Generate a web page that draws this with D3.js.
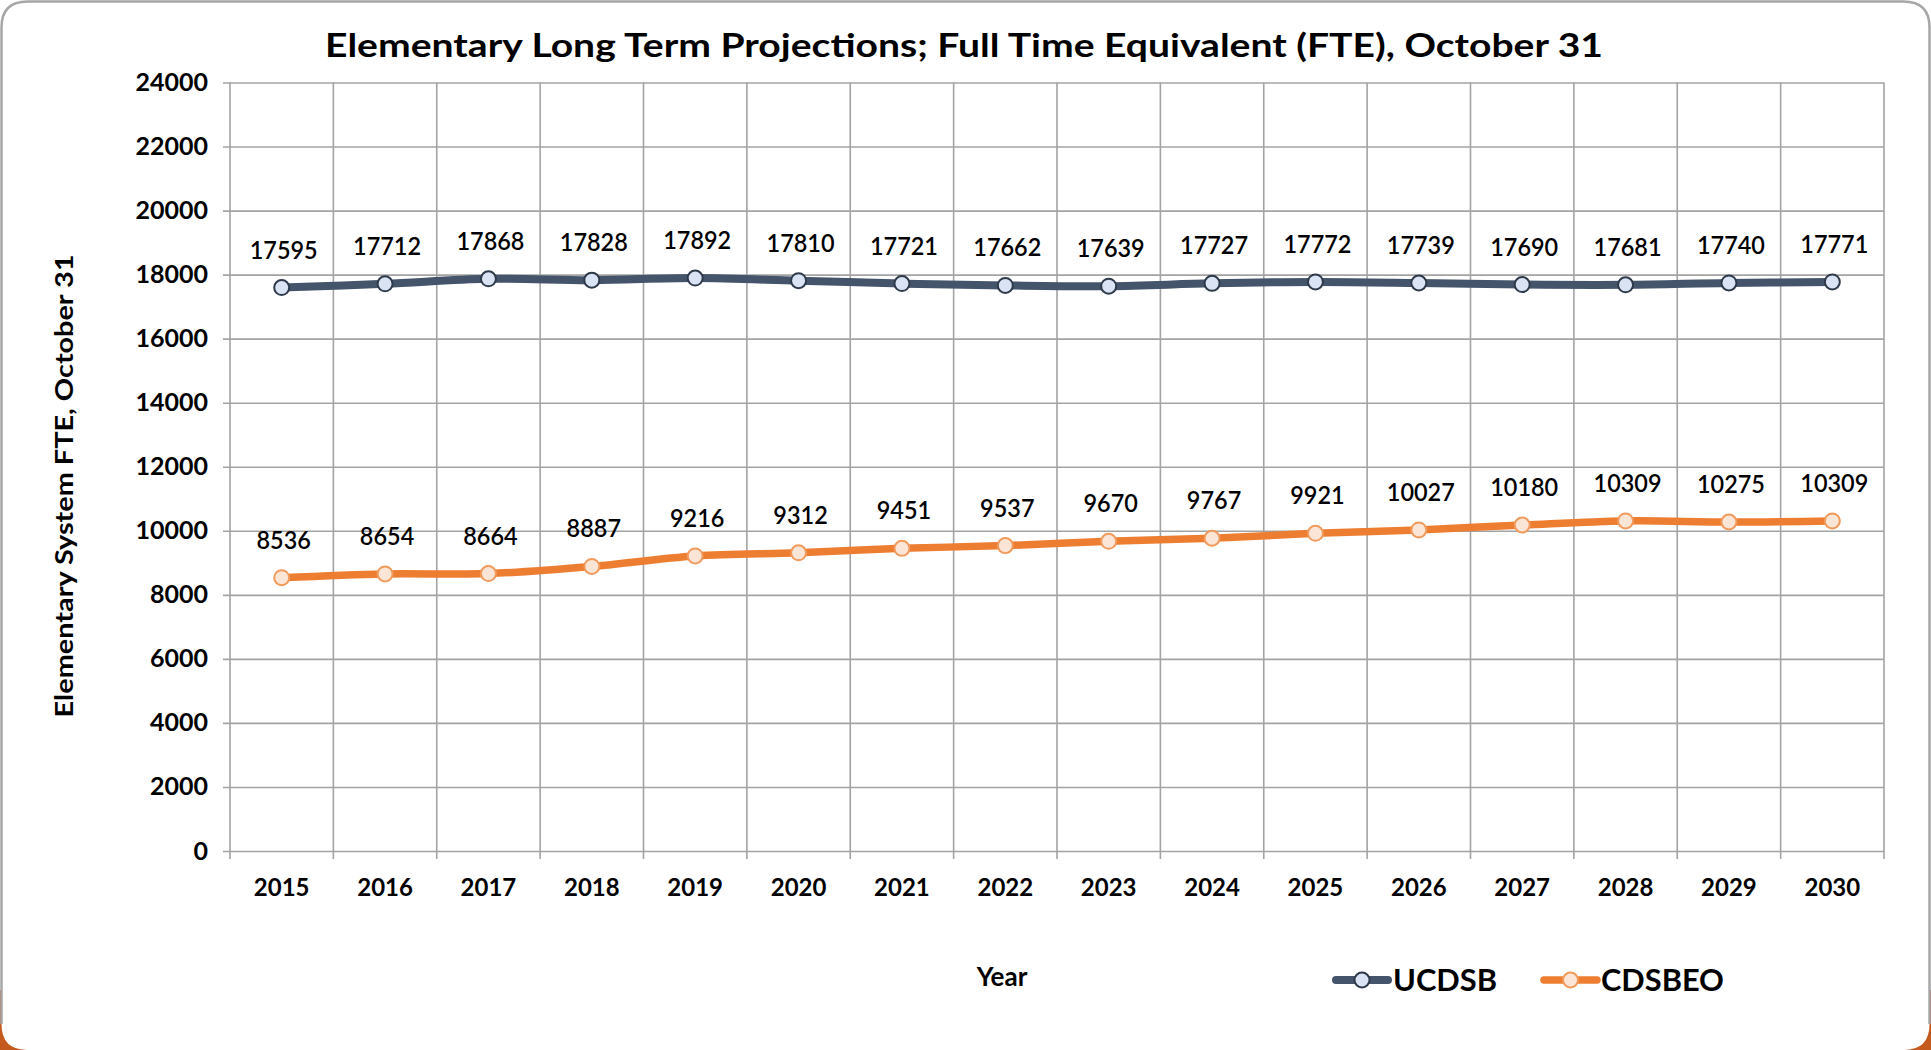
<!DOCTYPE html>
<html>
<head>
<meta charset="utf-8">
<script src="https://cdn.jsdelivr.net/npm/d3@7"></script>
<style>
  html, body { margin: 0; padding: 0; background: #ffffff; }
  svg { display: block; }
  text { font-family: Lato, "Open Sans", sans-serif; fill: #000; }
</style>
</head>
<body>
<svg id="chart" width="1931" height="1050"></svg>
<script>
const years = ["2015","2016","2017","2018","2019","2020","2021","2022","2023","2024","2025","2026","2027","2028","2029","2030"];
const ucdsb = [17595,17712,17868,17828,17892,17810,17721,17662,17639,17727,17772,17739,17690,17681,17740,17771];
const cdsbeo = [8536,8654,8664,8887,9216,9312,9451,9537,9670,9767,9921,10027,10180,10309,10275,10309];
const yTicks = [0,2000,4000,6000,8000,10000,12000,14000,16000,18000,20000,22000,24000];
const seriesNames = ["UCDSB","CDSBEO"];
const titleText = "Elementary Long Term Projections; Full Time Equivalent (FTE), October 31";
const yTitle = "Elementary System FTE, October 31";
const xTitle = "Year";

(function () {
const W = 1931, H = 1050;
const svg = d3.select("#chart");

// background frame
svg.append("rect").attr("x",0).attr("y",990).attr("width",W).attr("height",60).attr("fill","#c55a1e");
const R = 26;
svg.append("path")
  .attr("d", `M1.5,${H+5} L1.5,${R+1.5} Q1.5,1.5 ${R+1.5},1.5 L${W-R-1.5},1.5 Q${W-1.5},1.5 ${W-1.5},${R+1.5} L${W-1.5},${H-R} Q${W-1.5},${H} ${W-R-1.5},${H} L${R+1.5},${H} Q1.5,${H} 1.5,${H-R} Z`)
  .attr("fill","#ffffff");
svg.append("path")
  .attr("d", `M1.5,${H-R} L1.5,${R+1.5} Q1.5,1.5 ${R+1.5},1.5 L${W-R-1.5},1.5 Q${W-1.5},1.5 ${W-1.5},${R+1.5} L${W-1.5},${H-R}`)
  .attr("fill","none").attr("stroke","#a6a6a6").attr("stroke-width",2.5);

const pLeft = 230, pRight = 1884, pTop = 82.5, pBottom = 851;
const x = d3.scaleBand().domain(years).range([pLeft, pRight]).padding(0);
const y = d3.scaleLinear().domain([0,24000]).range([pBottom, pTop]);
const gridColor = "#a3a3a3";

// horizontal gridlines + y axis
const yAxis = d3.axisLeft(y).tickValues(yTicks).tickSize(pRight - pLeft + 7).tickPadding(15).tickFormat(d3.format("d"));
const gy = svg.append("g").attr("transform", `translate(${pRight},0)`).call(yAxis);
gy.select(".domain").remove();
gy.selectAll(".tick line").attr("stroke", gridColor).attr("stroke-width", 1.6);
gy.selectAll(".tick text").attr("font-size", 25).attr("font-weight", "bold").attr("fill","#000")
  .attr("font-family", "Lato, sans-serif");

// vertical gridlines at band boundaries
const bounds = years.map(d => x(d)).concat([pRight]);
svg.append("g").selectAll("line").data(bounds).join("line")
  .attr("x1", d => d).attr("x2", d => d)
  .attr("y1", pTop).attr("y2", pBottom + 8)
  .attr("stroke", gridColor).attr("stroke-width", 1.6);

// x axis labels
const xAxis = d3.axisBottom(x).tickSize(0).tickPadding(0);
const gx = svg.append("g").attr("transform", `translate(0,${pBottom})`).call(xAxis);
gx.select(".domain").remove();
gx.selectAll(".tick text").attr("font-size", 24).attr("font-weight","bold").attr("fill","#000")
  .attr("font-family", "Lato, sans-serif").attr("dy", null).attr("y", 45);

const cx = d => x(d) + x.bandwidth()/2;
const line = d3.line().x(d => cx(d[0])).y(d => y(d[1])).curve(d3.curveCatmullRom.alpha(0.5));

const styles = [
  { data: ucdsb, stroke: "#44546a", width: 8, mfill: "#dae3f3", mstroke: "#2e3a4a" },
  { data: cdsbeo, stroke: "#ed7d31", width: 7.5, mfill: "#fbe5d6", mstroke: "#f19a5c" }
];

styles.forEach(s => {
  const pts = years.map((yr, i) => [yr, s.data[i]]);
  svg.append("path").datum(pts).attr("d", line).attr("fill","none")
    .attr("stroke", s.stroke).attr("stroke-width", s.width).attr("stroke-linejoin","round").attr("stroke-linecap","round");
  svg.append("g").selectAll("circle").data(pts).join("circle")
    .attr("cx", d => cx(d[0])).attr("cy", d => y(d[1])).attr("r", 7.5)
    .attr("fill", s.mfill).attr("stroke", s.mstroke).attr("stroke-width", 2);
  svg.append("g").selectAll("text").data(pts).join("text")
    .attr("x", d => cx(d[0]) + 2).attr("y", d => y(d[1]) - 29)
    .attr("text-anchor","middle").attr("font-size", 25).attr("font-weight", 600)
    .attr("textLength", d => String(d[1]).length * 13.6).attr("lengthAdjust","spacingAndGlyphs")
    .text(d => d[1]);
});

// title
svg.append("text").attr("x", 964).attr("y", 57).attr("text-anchor","middle")
  .attr("font-size", 33).attr("font-weight","bold")
  .attr("textLength", 1278).attr("lengthAdjust","spacingAndGlyphs")
  .text(titleText);

// y title
svg.append("text").attr("transform", "translate(73,486) rotate(-90)").attr("text-anchor","middle")
  .attr("font-size", 25).attr("font-weight","bold")
  .attr("textLength", 463).attr("lengthAdjust","spacingAndGlyphs")
  .text(yTitle);

// x title
svg.append("text").attr("x", 1002).attr("y", 986).attr("text-anchor","middle")
  .attr("font-size", 26).attr("font-weight","bold").text(xTitle);

// legend
const legendItems = [
  { name: seriesNames[0], s: styles[0], x0: 1336, x1: 1388, tx: 1393, tw: 104 },
  { name: seriesNames[1], s: styles[1], x0: 1544, x1: 1597, tx: 1601, tw: 123 }
];
const ly = 980;
legendItems.forEach(it => {
  svg.append("line").attr("x1", it.x0).attr("x2", it.x1).attr("y1", ly).attr("y2", ly)
    .attr("stroke", it.s.stroke).attr("stroke-width", it.s.width).attr("stroke-linecap","round");
  svg.append("circle").attr("cx", (it.x0+it.x1)/2).attr("cy", ly).attr("r", 7.5)
    .attr("fill", it.s.mfill).attr("stroke", it.s.mstroke).attr("stroke-width", 2);
  svg.append("text").attr("x", it.tx).attr("y", ly + 11).attr("font-size", 30).attr("font-weight","bold")
    .attr("textLength", it.tw).attr("lengthAdjust","spacingAndGlyphs").text(it.name);
});
})();
</script>
</body>
</html>
